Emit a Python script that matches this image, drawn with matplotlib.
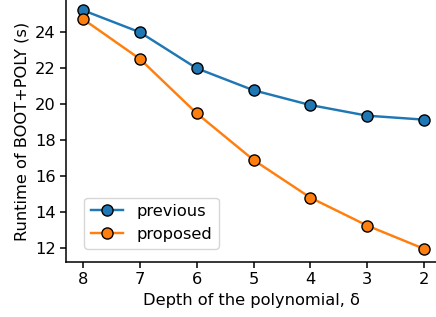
import matplotlib
matplotlib.use("Agg")
import matplotlib.pyplot as plt

depth = [8, 7, 6, 5, 4, 3, 2]
previous = [25.19, 23.97, 21.97, 20.75, 19.93, 19.34, 19.12]
proposed = [24.70, 22.49, 19.47, 16.88, 14.79, 13.24, 11.95]
yticks = [12, 14, 16, 18, 20, 22, 24]

fs = 11.7
fig = plt.figure(figsize=(4.36, 3.17), dpi=100)
ax = fig.add_axes([66 / 436, 1 - 262 / 317, 370 / 436, 262 / 317])

ax.plot(depth, previous, marker="o", markersize=8, markeredgecolor="black",
        linewidth=1.75, color="#1f77b4", label="previous")
ax.plot(depth, proposed, marker="o", markersize=8, markeredgecolor="black",
        linewidth=1.75, color="#ff7f0e", label="proposed")

ax.set_xlim(8.3, 1.79)
ax.set_ylim(11.22, 25.76)
ax.set_xticks(depth)
ax.set_yticks(yticks)
ax.tick_params(labelsize=fs, width=1.1, length=4)
for s in ["left", "bottom"]:
    ax.spines[s].set_linewidth(1.1)
ax.spines["top"].set_visible(False)
ax.spines["right"].set_visible(False)

ax.set_xlabel("Depth of the polynomial, δ", fontsize=fs)
ax.set_ylabel("Runtime of BOOT+POLY (s)", fontsize=fs)
ax.legend(loc="lower left", bbox_to_anchor=(0.028, 0.02), fontsize=fs)

fig.savefig("out.png", dpi=100)
